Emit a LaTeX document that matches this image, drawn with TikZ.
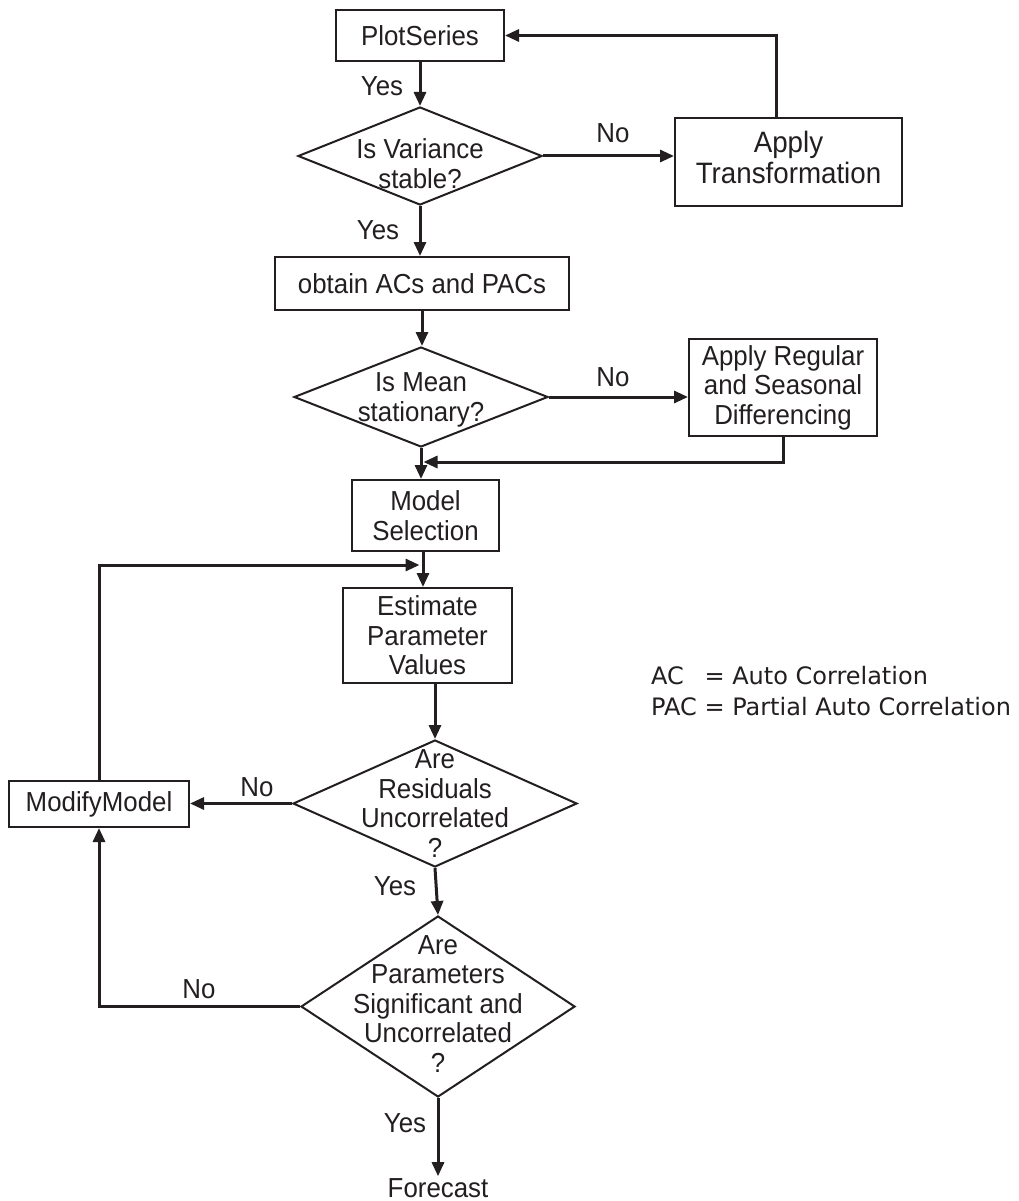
\documentclass[tikz,border=0pt]{standalone}
\usepackage{fontspec}
\setmainfont{Liberation Sans}[FakeStretch=0.94]
\newfontfamily\legfont{DejaVu Sans}
\usetikzlibrary{shapes.geometric,arrows.meta}
\definecolor{ink}{RGB}{35,31,32}
\newcommand\mainfs{\fontsize{27.5}{29.5}\selectfont}
\newcommand\dtext[2]{\smash{\makebox[0pt]{\raisebox{#1}{\begin{tabular}{@{}c@{}}#2\end{tabular}}}}}
\tikzset{
  box/.style={draw=ink, line width=2pt, inner sep=0pt, align=center, font=\mainfs, text=ink},
  dec/.style={diamond, draw=ink, line width=2pt, inner sep=0pt, font=\mainfs, text=ink},
  conn/.style={draw=ink, line width=3pt, -{Triangle[length=14pt,width=12pt]}},
  lbl/.style={font=\mainfs, inner sep=0pt, text=ink},
}
\begin{document}
\begin{tikzpicture}[x=1pt,y=-1pt]
\useasboundingbox[fill=white] (0,0) rectangle (1018,1201);
% boxes
\node[box, minimum width=168, minimum height=51] (ps) at (420,35.5) {PlotSeries};
\node[dec, minimum width=244, minimum height=98] (d1) at (420,156) {\dtext{-18pt}{Is Variance\\stable?}};
\node[box, minimum width=227, minimum height=88, font=\fontsize{29.5}{31}\selectfont] (at) at (788.5,162) {\dtext{-6.5pt}{Apply\\Transformation}};
\node[box, minimum width=294, minimum height=53] (ob) at (422,283.5) {obtain ACs and PACs};
\node[dec, minimum width=254, minimum height=100] (d2) at (421,397) {\dtext{-10pt}{Is Mean\\stationary?}};
\node[box, minimum width=188, minimum height=97] (ar) at (783,387.5) {Apply Regular\\and Seasonal\\Differencing};
\node[box, minimum width=147, minimum height=71] (ms) at (425.5,515.5) {Model\\Selection};
\node[box, minimum width=169, minimum height=95] (ep) at (427.5,635.5) {Estimate\\Parameter\\Values};
\node[dec, minimum width=284, minimum height=127] (d3) at (435,803.5) {\dtext{-10pt}{Are\\Residuals\\Uncorrelated\\?}};
\node[box, minimum width=180, minimum height=46] (mm) at (99,804) {ModifyModel};
\node[dec, minimum width=274, minimum height=181] (d4) at (438,1006.5) {\dtext{-7pt}{Are\\Parameters\\Significant and\\Uncorrelated\\?}};
\node[lbl, inner sep=2pt] (fc) at (438,1188) {Forecast};
% legend
\node[anchor=west, inner sep=0pt, text=ink, font=\legfont\fontsize{24}{31}\selectfont] (lg) at (651,694)
  {\begin{tabular}{@{}l@{ }l@{}}AC & = Auto Correlation\\ PAC & = Partial Auto Correlation\end{tabular}};
% junctions
\coordinate (j1) at (423.5,462);
\coordinate (j2) at (419.5,565);
% connectors
\draw[conn] (ps.south) -- (d1.north);
\draw[conn] (d1.east) -- (d1.east -| at.west);
\draw[conn] ([xshift=-12.5pt]at.north) |- (ps.east);
\draw[conn] (d1.south) -- (d1.south |- ob.north);
\draw[conn] (ob.south) -- (ob.south |- d2.north);
\draw[conn] (d2.east) -- (d2.east -| ar.west);
\draw[conn] (ar.south) |- (j1);
\draw[conn] (d2.south) -- (d2.south |- ms.north);
\draw[conn] (mm.north) |- (j2);
\draw[conn] ([xshift=-2.5pt]ms.south) -- ([xshift=-2.5pt]ms.south |- ep.north);
\draw[conn] (d3.north |- ep.south) -- (d3.north);
\draw[conn] (d3.west) -- (d3.west -| mm.east);
\draw[conn] (d3.south) -- (d4.north);
\draw[conn] (d4.west) -| (mm.south);
\draw[conn] (d4.south) -- (fc.north);
% labels
\node[lbl] (y1) at (382,86) {Yes};
\node[lbl] (n1) at (613,133) {No};
\node[lbl] (y2) at (378,230) {Yes};
\node[lbl] (n2) at (613,377) {No};
\node[lbl] (n3) at (257,787) {No};
\node[lbl] (y3) at (395,886) {Yes};
\node[lbl] (n4) at (199,989) {No};
\node[lbl] (y4) at (405,1123) {Yes};
\end{tikzpicture}
\end{document}
